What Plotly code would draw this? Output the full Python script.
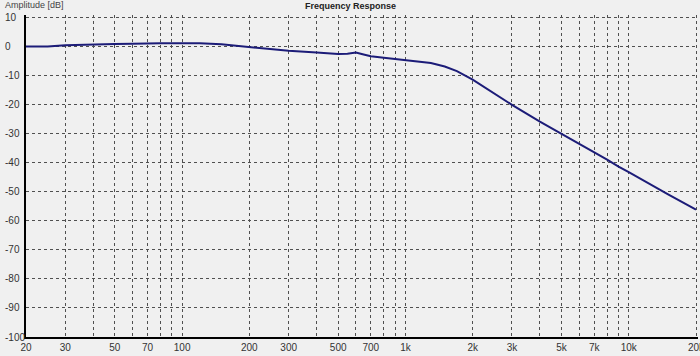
import plotly.graph_objects as go

# ---- data ----
freq_hz = [20, 25, 30, 40, 50, 60, 70, 80, 100, 120, 150, 170, 200, 250, 300, 400, 500, 550,
           600, 650, 700, 800, 900, 1000, 1300, 1500, 1700, 2000, 2500, 3000, 4000, 5000,
           6000, 7000, 8000, 9000, 10000, 15000, 20000]
amp_db = [-0.1, -0.1, 0.3, 0.4, 0.7, 0.8, 1.0, 1.0, 1.0, 1.0, 0.6, 0.2, -0.3, -0.9, -1.6, -2.2,
          -2.7, -2.6, -2.2, -2.9, -3.5, -4.0, -4.4, -4.7, -5.8, -7.0, -8.6, -11.5, -16.3, -20.2,
          -26.0, -30.2, -33.5, -36.3, -39.0, -41.4, -43.3, -51.0, -56.2]

x_grid_vals = [20, 30, 40, 50, 60, 70, 80, 90, 100, 200, 300, 400, 500, 600, 700, 800, 900,
               1000, 2000, 3000, 4000, 5000, 6000, 7000, 8000, 9000, 10000, 20000]
x_grid_text = ["20", "30", "", "50", "", "70", "", "", "100", "200", "300", "", "500", "", "700",
               "", "", "1k", "2k", "3k", "", "5k", "", "7k", "", "", "10k", "20k"]
y_tick_vals = [10, 0, -10, -20, -30, -40, -50, -60, -70, -80, -90, -100]
y_tick_text = ["10", "0", "-10", "-20", "-30", "-40", "-50", "-60", "-70", "-80", "-90", "-100"]

title_text = "Frequency Response"
y_axis_label = "Amplitude [dB]"

W, H = 700, 356
L, R, T, B = 26, 2, 15, 19
pw, ph = W - L - R, H - T - B

BG = "#f0f0f0"
GRID = "#505050"
FONT = "Liberation Sans, Arial, sans-serif"

fig = go.Figure()
fig.add_trace(go.Scatter(x=freq_hz, y=amp_db, mode="lines",
                         line=dict(color="#1c1c78", width=2), hoverinfo="skip",
                         showlegend=False))

fig.update_layout(
    width=W, height=H,
    margin=dict(l=L, r=R, t=T, b=B, autoexpand=False),
    paper_bgcolor=BG, plot_bgcolor=BG,
    showlegend=False,
    font=dict(family=FONT, size=10, color="#333333"),
    xaxis=dict(type="log", range=[1.30103, 4.31],
               tickmode="array", tickvals=x_grid_vals, ticktext=x_grid_text,
               showgrid=True, gridcolor=GRID, griddash="dot", gridwidth=1,
               showline=True, linecolor="#000000", linewidth=2,
               ticks="", zeroline=False, automargin=False, ticklabeloverflow="allow",
               tickfont=dict(size=10, color="#333333")),
    yaxis=dict(range=[-100, 10.69], tickmode="array", tickvals=y_tick_vals,
               showticklabels=False,
               showgrid=True, gridcolor=GRID, griddash="dot", gridwidth=1,
               showline=True, linecolor="#000000", linewidth=2,
               ticks="", zeroline=False),
)

# left-aligned y tick labels built from the tick arrays
for v, t in zip(y_tick_vals, y_tick_text):
    fig.add_annotation(x=(3 - L) / pw, xref="paper", xanchor="left",
                       y=v, yref="y", yanchor="middle", text=t, showarrow=False,
                       font=dict(size=10, color="#333333", family=FONT))

fig.add_annotation(x=(350 - L) / pw, xref="paper", xanchor="center",
                   y=1 + (T - 6) / ph, yref="paper", yanchor="middle",
                   text="<b>" + title_text + "</b>", showarrow=False,
                   font=dict(size=9, color="#222222", family=FONT))
fig.add_annotation(x=(3 - L) / pw, xref="paper", xanchor="left",
                   y=1 + (T - 5) / ph, yref="paper", yanchor="middle",
                   text=y_axis_label, showarrow=False,
                   font=dict(size=9, color="#444444", family=FONT))

fig.write_html("out.html", config={"displayModeBar": False, "staticPlot": True},
               post_script="document.body.style.margin='0';document.body.style.overflow='hidden';")
